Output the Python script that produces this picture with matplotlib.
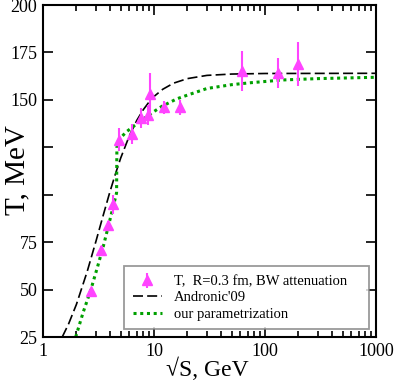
import numpy as np
import matplotlib
matplotlib.use('Agg')
import matplotlib.pyplot as plt
from matplotlib.ticker import LogLocator, NullFormatter

plt.rcParams['font.family'] = ['Liberation Serif', 'DejaVu Serif']

# data points: sqrt(s) [GeV], T [MeV], error [MeV]
sqs = [2.7, 3.32, 3.84, 4.3, 4.88, 6.27, 7.6, 8.8, 9.2, 12.3, 17.3, 62.4, 130, 200]
T = [49, 71, 84, 95, 129, 132, 140.5, 142, 153, 146, 146, 165, 164, 169]
dT = [2, 2, 2, 5, 6, 5.3, 5.3, 5.5, 11, 3.3, 3.8, 10.5, 8, 11.5]

# Andronic'09 curve
x_and = [1.49, 1.7, 2, 2.5, 3, 3.5, 4, 4.5, 5, 6, 7, 8, 9, 10, 12, 15, 20, 30, 50, 100, 1000]
T_and = [25.0, 31.9, 42.2, 59.5, 75.5, 89.5, 101.4, 111.1, 119.2, 131.1, 139.2, 144.8,
         148.8, 151.8, 155.6, 158.8, 161.2, 162.9, 163.6, 163.9, 164.0]

# our parametrization
x_par = [1.97, 2.3, 2.7, 3.1, 3.5, 3.9, 4.3, 4.6, 4.63, 4.8, 5.1, 5.6, 6.5, 7.5, 9.5,
         11.7, 16, 20, 30, 50, 73, 146, 300, 1000]
T_par = [25, 38, 50, 62, 73, 84, 94, 101, 125, 128, 130.5, 133, 136, 138.6, 143,
         146.5, 150.5, 152.5, 156, 158, 159, 160.5, 161.2, 161.9]

fig = plt.figure(figsize=(4.2, 3.82), dpi=100)
ax = fig.add_axes([0.1024, 0.1178, 0.7929, 0.8691])

eb = ax.errorbar(sqs, T, yerr=dT, fmt='^', color='#ff44ff', ecolor='#ff44ff',
                 markersize=7.5, elinewidth=1.5, capsize=0, zorder=3,
                 label='T,  R=0.3 fm, BW attenuation')
l1, = ax.plot(x_and, T_and, color='black', lw=1.2, dashes=(6, 2.5), label="Andronic'09")
l2, = ax.plot(x_par, T_par, color='#00a000', lw=2.2, linestyle=(0, (1, 1.2)),
              label='our parametrization')

ax.set_xscale('log')
ax.set_xlim(1, 1000)
ax.set_ylim(25, 200)
ax.set_xticks([1, 10, 100, 1000])
ax.set_xticklabels(['1', '10', '100', '1000'])
ax.xaxis.set_minor_locator(LogLocator(base=10, subs=np.arange(2, 10)))
ax.xaxis.set_minor_formatter(NullFormatter())
ax.set_yticks([25, 50, 75, 100, 125, 150, 175, 200])
ax.set_yticklabels(['25', '50', '75', '', '', '150', '175', '200'])

ax.tick_params(which='both', direction='in', top=True, right=True, width=1.2)
ax.tick_params(which='major', length=7, labelsize=13, pad=4)
ax.tick_params(which='minor', length=4)
for s in ax.spines.values():
    s.set_linewidth(1.5)

ax.set_xlabel('√S, GeV', fontsize=17, va='center')
ax.xaxis.set_label_coords(0.492, -0.096)
ax.set_ylabel('T, MeV', fontsize=21, va='center')
ax.yaxis.set_label_coords(-0.078, 0.503)

leg = ax.legend([eb, l1, l2], [eb.get_label(), l1.get_label(), l2.get_label()],
                loc='lower left', bbox_to_anchor=(0.243, 0.023, 0.736, 0.201),
                mode='expand', fontsize=10.5, frameon=True, fancybox=False,
                edgecolor='#808080', borderpad=0.6, labelspacing=0.2,
                handlelength=2.0, handletextpad=0.8, borderaxespad=0)
leg.get_frame().set_linewidth(1.3)

fig.savefig('out.png', dpi=100)
